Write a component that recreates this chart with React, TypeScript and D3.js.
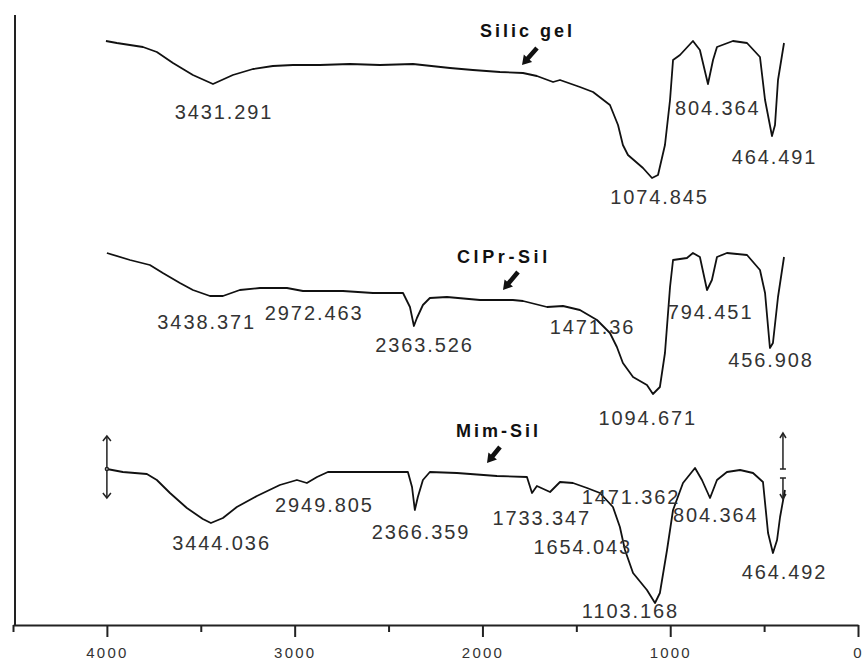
import React, { useEffect, useRef } from "react";
import * as d3 from "d3";

// FTIR spectra, wavenumber (cm-1) vs relative transmittance
const seriesNames = ["Silic gel", "ClPr-Sil", "Mim-Sil"];

const silicWn = [4005, 3947, 3808, 3734, 3648, 3542, 3435, 3329, 3222, 3116, 3009, 2866, 2706, 2546, 2370, 2173, 2051, 1907, 1784, 1710, 1624, 1587, 1481, 1411, 1321, 1278, 1252, 1225, 1145, 1097, 1065, 1028, 1001, 985, 948, 879, 842, 799, 772, 751, 666, 591, 522, 495, 458, 442, 426, 394];
const silicT = [79.5, 78.5, 76.5, 74, 68.5, 62.5, 58, 62.5, 65.5, 67, 67.5, 67.5, 68, 67.5, 68, 66, 65, 64, 63.5, 62, 59, 60, 56.5, 54, 47.5, 37.5, 27.5, 22.5, 16, 11, 12.5, 27.5, 50, 70, 72.5, 79.5, 75, 58, 70, 76.5, 79.5, 78.5, 71.5, 50, 32, 37.5, 60, 78.5];

const clprWn = [4000, 3877, 3771, 3702, 3611, 3542, 3451, 3382, 3292, 3185, 3041, 2956, 2743, 2583, 2423, 2386, 2365, 2349, 2317, 2280, 2189, 2013, 1838, 1784, 1656, 1571, 1481, 1390, 1321, 1284, 1252, 1198, 1124, 1092, 1055, 1028, 1001, 985, 911, 879, 842, 804, 778, 751, 698, 591, 522, 495, 469, 453, 426, 394];
const clprT = [80.5, 77, 74.5, 70.5, 65.5, 62, 59, 59, 62, 63, 63, 61.5, 61.5, 60.5, 60.5, 53.5, 44, 48, 54.5, 58, 58.5, 57, 57, 56.5, 53.5, 54, 52, 47, 40.5, 33.5, 25.5, 18.5, 14.5, 10, 13.5, 30.5, 63.5, 77, 78, 80.5, 78.5, 62, 67, 78.5, 80.5, 79.5, 72, 60.5, 33, 35.5, 58.5, 78.5];

const mimWn = [4000, 3915, 3787, 3734, 3664, 3574, 3489, 3446, 3382, 3308, 3201, 3079, 2988, 2935, 2881, 2823, 2546, 2397, 2375, 2360, 2344, 2317, 2280, 2136, 1923, 1763, 1736, 1710, 1640, 1587, 1518, 1443, 1374, 1305, 1268, 1241, 1198, 1124, 1081, 1055, 1017, 985, 932, 868, 831, 788, 751, 698, 628, 559, 506, 479, 453, 431, 415, 389];
const mimT = [79.5, 78, 77, 74, 67.5, 60, 54.5, 52.5, 55, 60.5, 66, 71.5, 74, 72.5, 75.5, 78, 78, 78, 70.5, 59, 65.5, 74, 78, 77.5, 76, 75.5, 67.5, 71, 68, 73, 72.5, 70, 67.5, 60.5, 50.5, 39, 27.5, 19, 12.5, 17.5, 39, 59, 72.5, 80, 74, 65, 74, 78, 79, 77.5, 73, 47.5, 37.5, 44, 55.5, 69];

// peak annotations
const silicPeaks = [3431.291, 1074.845, 804.364, 464.491];
const clprPeaks = [3438.371, 2972.463, 2363.526, 1471.36, 1094.671, 794.451, 456.908];
const mimPeaks = [3444.036, 2949.805, 2366.359, 1733.347, 1654.043, 1471.362, 1103.168, 804.364, 464.492];

const majorTicks = [4000, 3000, 2000, 1000, 0];
const minorTicks = [4500, 3500, 2500, 1500, 500];

// label placement: [dx from peak, baseline y]
const silicLabelPos = [[-39, 119], [-46, 204], [-32, 115], [-39, 164]];
const clprLabelPos = [[-55, 329], [-35, 320], [-39, 352], [-32, 334], [-54, 425], [-41, 319], [-44, 367]];
const mimLabelPos = [[-39, 550], [-29, 512], [-42, 539], [-40, 525], [-14, 554], [0, 504], [-69, 618], [-34, 522], [-29, 579]];

// series name + arrow: text start, baseline, arrow tail, arrow tip
const nameLayout = [
  { x: 480, y: 37, ls: 3, tail: [537, 48], tip: [522, 65] },
  { x: 457, y: 263, ls: 3.6, tail: [518, 272], tip: [503, 290] },
  { x: 456, y: 437, ls: 3, tail: [500, 447], tip: [487, 463] },
];

const W = 865;
const H = 664;
const margin = { left: 13, right: 7, top: 15, bottom: 39 };

function arrowPath(x1: number, y1: number, x2: number, y2: number) {
  const dx = x2 - x1;
  const dy = y2 - y1;
  const len = Math.sqrt(dx * dx + dy * dy);
  const ux = dx / len;
  const uy = dy / len;
  const px = -uy;
  const py = ux;
  const head = 9;
  const hw = 5.5;
  const sw = 2.3;
  const bx = x2 - ux * head;
  const by = y2 - uy * head;
  const pts = [
    [x1 + px * sw, y1 + py * sw],
    [bx + px * sw, by + py * sw],
    [bx + px * hw, by + py * hw],
    [x2, y2],
    [bx - px * hw, by - py * hw],
    [bx - px * sw, by - py * sw],
    [x1 - px * sw, y1 - py * sw],
  ];
  return "M" + pts.map((p) => p.join(",")).join("L") + "Z";
}

export default function App() {
  const axisRef = useRef<SVGGElement>(null);

  const x = d3.scaleLinear().domain([4500, 0]).range([margin.left, W - margin.right]);
  const axisY = H - margin.bottom;
  const band = d3
    .scaleBand<string>()
    .domain(seriesNames)
    .range([0, 628])
    .paddingInner(14 / 214)
    .paddingOuter(0);
  const bw = band.bandwidth();
  const yFor = (name: string) =>
    d3.scaleLinear().domain([0, 100]).range([band(name)! + bw, band(name)!]);

  const series = [
    { name: seriesNames[0], wn: silicWn, t: silicT, peaks: silicPeaks, pos: silicLabelPos },
    { name: seriesNames[1], wn: clprWn, t: clprT, peaks: clprPeaks, pos: clprLabelPos },
    { name: seriesNames[2], wn: mimWn, t: mimT, peaks: mimPeaks, pos: mimLabelPos },
  ];

  useEffect(() => {
    const g = d3.select(axisRef.current);
    g.selectAll("*").remove();
    const minor = g
      .append("g")
      .attr("transform", `translate(0,${axisY})`)
      .call(d3.axisBottom(x).tickValues(minorTicks).tickSize(7).tickSizeOuter(0).tickFormat(() => ""));
    minor.select(".domain").remove();
    const major = g
      .append("g")
      .attr("transform", `translate(0,${axisY})`)
      .call(
        d3
          .axisBottom(x)
          .tickValues(majorTicks)
          .tickSize(12)
          .tickSizeOuter(0)
          .tickPadding(10)
          .tickFormat((d) => String(d))
      );
    g.selectAll(".tick line").attr("stroke", "#222").attr("stroke-width", 2);
    major.select(".domain").attr("stroke", "#222").attr("stroke-width", 2);
    major
      .selectAll(".tick text")
      .attr("font-family", "'Liberation Sans', Arial, sans-serif")
      .attr("font-size", 15)
      .attr("letter-spacing", 2.2)
      .attr("fill", "#333");
  }, []);

  const m3 = yFor(seriesNames[2]);
  const leftMarkX = x(mimWn[0]);
  const leftMarkY = m3(mimT[0]);
  const rightMarkX = x(mimWn[mimWn.length - 1]) - 2;

  return (
    <svg
      width={W}
      height={H}
      style={{ position: "absolute", left: 0, top: 0, background: "#fff" }}
      fontFamily="'Liberation Sans', Arial, sans-serif"
    >
      <rect width={W} height={H} fill="#fff" />
      <line x1={15} x2={15} y1={margin.top} y2={axisY} stroke="#222" strokeWidth={2} />
      <g ref={axisRef} />

      {series.map((s) => {
        const y = yFor(s.name);
        const line = d3
          .line<number>()
          .x((d) => x(d))
          .y((d, i) => y(s.t[i]));
        return (
          <g key={s.name}>
            <path d={line(s.wn) || ""} fill="none" stroke="#111" strokeWidth={1.8} strokeLinejoin="round" />
            {s.peaks.map((p, i) => (
              <text
                key={i}
                x={x(p) + s.pos[i][0]}
                y={s.pos[i][1]}
                fontSize={20}
                letterSpacing={1.9}
                fill="#333"
              >
                {String(p)}
              </text>
            ))}
          </g>
        );
      })}

      {seriesNames.map((n, i) => {
        const l = nameLayout[i];
        return (
          <g key={n}>
            <text x={l.x} y={l.y} fontSize={18} fontWeight="bold" letterSpacing={l.ls} fill="#111">
              {n}
            </text>
            <path d={arrowPath(l.tail[0], l.tail[1], l.tip[0], l.tip[1])} fill="#111" />
          </g>
        );
      })}

      {/* scale markers on the lower trace */}
      <g stroke="#222" strokeWidth={1.5} fill="none">
        <line x1={leftMarkX} x2={leftMarkX} y1={leftMarkY - 33} y2={leftMarkY + 29} />
        <path d={`M${leftMarkX - 4},${leftMarkY - 28}L${leftMarkX},${leftMarkY - 33}L${leftMarkX + 4},${leftMarkY - 28}`} />
        <path d={`M${leftMarkX - 4},${leftMarkY + 24}L${leftMarkX},${leftMarkY + 29}L${leftMarkX + 4},${leftMarkY + 24}`} />
        <circle cx={leftMarkX} cy={leftMarkY} r={1.5} fill="#fff" />
        <line x1={rightMarkX} x2={rightMarkX} y1={433} y2={469} />
        <path d={`M${rightMarkX - 3},${438}L${rightMarkX},${433}L${rightMarkX + 3},${438}`} />
        <line x1={rightMarkX - 3} x2={rightMarkX + 3} y1={469} y2={469} />
        <line x1={rightMarkX} x2={rightMarkX} y1={478} y2={499} />
        <line x1={rightMarkX - 3} x2={rightMarkX + 3} y1={478} y2={478} />
        <path d={`M${rightMarkX - 3},${494}L${rightMarkX},${499}L${rightMarkX + 3},${494}`} />
      </g>
    </svg>
  );
}
